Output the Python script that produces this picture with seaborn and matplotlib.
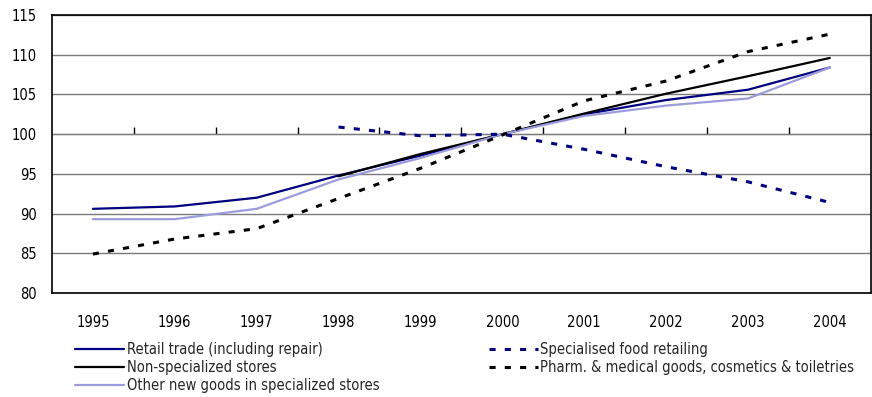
import numpy as np
import pandas as pd
import matplotlib
matplotlib.use("Agg")
import matplotlib.pyplot as plt
import seaborn as sns

years = ["1995", "1996", "1997", "1998", "1999", "2000", "2001", "2002", "2003", "2004"]

retail_trade = [90.6, 90.9, 92.0, 94.8, 97.3, 100.0, 102.5, 104.3, 105.6, 108.4]
non_specialized = [np.nan, np.nan, np.nan, 94.7, 97.5, 100.0, 102.6, 105.1, 107.3, 109.6]
other_new_goods = [89.3, 89.3, 90.6, 94.3, 97.0, 100.0, 102.3, 103.6, 104.5, 108.4]
food_retailing = [np.nan, np.nan, np.nan, 100.9, 99.8, 100.0, 98.1, 95.9, 94.0, 91.4]
pharm_goods = [84.9, 86.8, 88.1, 91.9, 95.7, 99.9, 104.2, 106.7, 110.4, 112.6]

series_names = [
    "Retail trade (including repair)",
    "Non-specialized stores",
    "Other new goods in specialized stores",
    "Specialised food retailing",
    "Pharm. & medical goods, cosmetics & toiletries",
]
series_values = [retail_trade, non_specialized, other_new_goods, food_retailing, pharm_goods]

colors = {
    series_names[0]: "#000080",
    series_names[1]: "#000000",
    series_names[2]: "#9C9CDC",
    series_names[3]: "#000080",
    series_names[4]: "#000000",
}
dash_styles = {
    series_names[0]: "",
    series_names[1]: "",
    series_names[2]: "",
    series_names[3]: (2.0, 3.0),
    series_names[4]: (2.0, 3.0),
}
widths = {
    series_names[0]: 1.6,
    series_names[1]: 1.6,
    series_names[2]: 1.6,
    series_names[3]: 2.2,
    series_names[4]: 2.2,
}

rows = []
for name, vals in zip(series_names, series_values):
    for i, (yr, v) in enumerate(zip(years, vals)):
        rows.append({"pos": i, "year": yr, "value": v, "series": name})
df = pd.DataFrame(rows)

sns.set_style("white")
plt.rcParams["font.family"] = ["DejaVu Sans"]
plt.rcParams["font.stretch"] = "condensed"

fig = plt.figure(figsize=(8.72, 3.97), dpi=100)
ax = fig.add_axes([0.0596, 0.262, 0.939, 0.700])

sns.lineplot(
    data=df, x="pos", y="value", hue="series", style="series",
    hue_order=series_names, style_order=series_names,
    palette=colors, dashes=dash_styles, linewidth=1.6, ax=ax, legend=True,
)
for line, name in zip(ax.lines, series_names):
    line.set_linewidth(widths[name])

ax.set_xlim(-0.5, len(years) - 0.5)
ax.set_ylim(80, 115)
ax.set_yticks(np.arange(80, 116, 5))
ax.set_xticks(range(len(years)))
ax.set_xticklabels(years)
ax.set_xlabel("")
ax.set_ylabel("")
ax.yaxis.grid(True, color="#7a7a7a", linewidth=1.0)
ax.set_axisbelow(True)
ax.tick_params(axis="both", length=0, labelsize=10.5, colors="#000000")
ax.tick_params(axis="y", pad=11)
ax.tick_params(axis="x", pad=16)
for sp in ax.spines.values():
    sp.set_visible(True)
    sp.set_color("black")
    sp.set_linewidth(1.2)

# category axis crossing at 100, with ticks between the years
cross = ax.secondary_xaxis(100, transform=ax.transData)
cross.set_xticks(np.arange(0.5, len(years) - 1, 1.0))
cross.set_xticklabels([])
cross.tick_params(axis="x", direction="out", length=5, width=1.0, color="black")
cross.spines["bottom"].set_color("black")
cross.spines["bottom"].set_linewidth(1.2)

handles, labels = ax.get_legend_handles_labels()
ax.get_legend().remove()
order = [labels.index(n) for n in series_names]
for i in order:
    handles[i].set_linewidth(widths[labels[i]])
ax.legend(
    [handles[i] for i in order], [labels[i] for i in order],
    ncol=2, loc="upper left", bbox_to_anchor=(0.028, -0.175),
    frameon=False, fontsize=10.5, handlelength=3.4, handletextpad=0.15,
    labelspacing=0.22, columnspacing=7.5, borderaxespad=0, borderpad=0,
)

fig.savefig("out.png", dpi=100)
